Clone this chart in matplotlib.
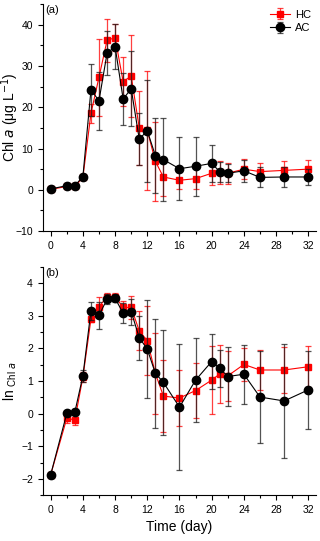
import matplotlib
matplotlib.use("Agg")
import matplotlib.pyplot as plt
from matplotlib.ticker import MultipleLocator

plt.rcParams['font.family'] = ['Liberation Sans', 'DejaVu Sans']

days = [0, 2, 3, 4, 5, 6, 7, 8, 9, 10, 11, 12, 13, 14, 16, 18, 20, 21, 22, 24, 26, 29, 32]

# Panel (a): Chl a (ug/L)
hc_chl = [0.1, 0.8, 0.8, 3.0, 18.5, 27.3, 36.2, 36.9, 26.2, 27.6, 15.0, 14.4, 6.9, 3.1,
          2.3, 2.7, 4.0, 4.2, 4.0, 5.0, 4.4, 4.7, 5.0]
hc_chl_err = [0.2, 0.3, 0.3, 0.4, 2.2, 9.3, 5.3, 3.2, 6.0, 10.0, 8.9, 14.4, 9.6, 4.6,
              2.0, 2.5, 2.8, 2.8, 2.5, 2.5, 2.1, 2.2, 2.2]
ac_chl = [0.2, 1.0, 1.0, 3.2, 24.2, 21.6, 33.1, 34.7, 22.0, 24.5, 12.3, 14.3, 8.3, 7.3,
          5.1, 5.7, 6.4, 4.4, 4.0, 4.6, 3.0, 3.1, 3.1]
ac_chl_err = [0.2, 0.3, 0.3, 0.4, 6.3, 7.0, 5.3, 5.5, 6.4, 9.1, 6.4, 12.3, 9.1, 10.0,
              7.7, 7.2, 4.5, 2.4, 2.2, 2.7, 2.4, 2.5, 2.0]

# Panel (b): ln Chl a
hc_ln = [-1.87, -0.14, -0.19, 1.12, 2.90, 3.28, 3.59, 3.59, 3.26, 3.26, 2.54, 2.24, 1.24, 0.54,
         0.48, 0.71, 1.03, 1.22, 1.16, 1.51, 1.34, 1.34, 1.44]
hc_ln_err = [0.05, 0.15, 0.15, 0.15, 0.10, 0.30, 0.12, 0.10, 0.20, 0.36, 0.60, 1.05, 1.24, 1.11,
             0.87, 0.83, 1.05, 0.90, 0.77, 0.50, 0.60, 0.70, 0.63]
ac_ln = [-1.87, 0.01, 0.05, 1.16, 3.15, 3.02, 3.51, 3.54, 3.08, 3.13, 2.33, 1.98, 1.24, 0.96,
         0.20, 1.03, 1.60, 1.39, 1.14, 1.21, 0.51, 0.39, 0.73]
ac_ln_err = [0.05, 0.05, 0.08, 0.18, 0.28, 0.42, 0.15, 0.10, 0.30, 0.40, 0.67, 1.50, 1.67, 1.62,
             1.93, 1.30, 0.83, 0.56, 0.90, 0.90, 1.42, 1.75, 1.19]

fig = plt.figure(figsize=(3.2, 5.41), dpi=100)
ax1 = fig.add_axes([0.1333, 0.573, 0.8552, 0.4193])
ax2 = fig.add_axes([0.1333, 0.0847, 0.8552, 0.4218])

def draw(ax, hc, hce, ac, ace):
    ax.errorbar(days, hc, yerr=hce, color='#ff0000', ecolor=(1, 0, 0, 0.75), marker='s',
                markersize=5, linewidth=0.8, elinewidth=0.9, capsize=2, capthick=0.9,
                label='HC', zorder=2)
    ax.errorbar(days, ac, yerr=ace, color='black', ecolor=(0.1, 0.1, 0.1, 0.75), marker='o',
                markersize=6, linewidth=0.8, elinewidth=0.9, capsize=2, capthick=0.9,
                label='AC', zorder=3)
    ax.spines['top'].set_visible(False)
    ax.spines['right'].set_visible(False)
    ax.set_xlim(-1, 33)
    ax.xaxis.set_major_locator(MultipleLocator(4))
    ax.xaxis.set_minor_locator(MultipleLocator(2))
    ax.tick_params(which='major', direction='out', length=3.5, width=0.8, labelsize=7.5)
    ax.tick_params(which='minor', direction='out', length=2, width=0.8)

draw(ax1, hc_chl, hc_chl_err, ac_chl, ac_chl_err)
ax1.set_ylim(-10, 45)
ax1.yaxis.set_major_locator(MultipleLocator(10))
ax1.yaxis.set_minor_locator(MultipleLocator(5))
ax1.set_ylabel(r'Chl $\it{a}$ ($\mathregular{\mu}$g L$^{-1}$)', fontsize=10)
ax1.yaxis.set_label_coords(-0.080, 0.5)
ax1.text(0.01, 0.995, '(a)', transform=ax1.transAxes, fontsize=8, va='top', ha='left')
ax1.legend(loc='upper right', frameon=False, fontsize=8, handlelength=1.8,
           borderaxespad=0.1, handletextpad=0.4, labelspacing=0.3,
           bbox_to_anchor=(1.0, 1.0))

draw(ax2, hc_ln, hc_ln_err, ac_ln, ac_ln_err)
ax2.set_ylim(-2.5, 4.5)
ax2.yaxis.set_major_locator(MultipleLocator(1))
ax2.yaxis.set_minor_locator(MultipleLocator(0.5))
ax2.set_ylabel(r'ln $_{\mathregular{Chl}\ \it{a}}$', fontsize=10)
ax2.yaxis.set_label_coords(-0.086, 0.5)
ax2.set_xlabel('Time (day)', fontsize=10)
ax2.text(0.01, 0.995, '(b)', transform=ax2.transAxes, fontsize=8, va='top', ha='left')

fig.savefig('out.png', dpi=100)
